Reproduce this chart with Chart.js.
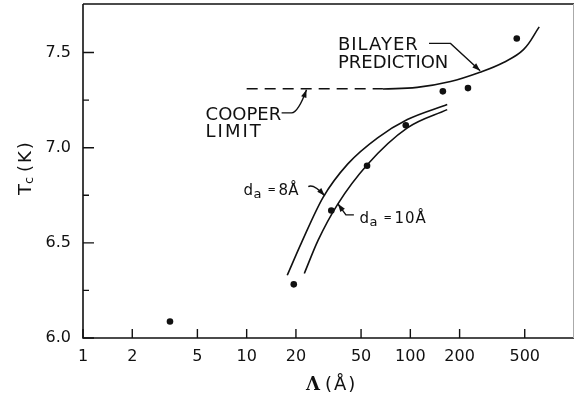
<!DOCTYPE html>
<html>
<head>
<meta charset="utf-8">
<script src="https://cdn.jsdelivr.net/npm/chart.js@4/dist/chart.umd.min.js"></script>
<style>
  html, body { margin: 0; padding: 0; background: #fff; }
  #c { display: block; }
</style>
</head>
<body>
<canvas id="c" width="578" height="398"></canvas>
<script>
// Measured transition temperatures versus bilayer period
const measLambda = [3.4, 19.4, 32.9, 54.4, 93.8, 158, 225, 447];
const measTc     = [6.087, 6.282, 6.67, 6.905, 7.118, 7.296, 7.313, 7.574];

// Cooper limit (dashed)
const cooperLambda = [10, 68];
const cooperTc     = [7.31, 7.31];

// Bilayer prediction
const bilayerLambda = [68, 110, 176, 267, 371, 491, 613];
const bilayerTc     = [7.308, 7.317, 7.348, 7.397, 7.448, 7.515, 7.635];

// Proximity model, d_a = 8 Å
const da8Lambda = [17.7, 21.6, 29.3, 41.5, 63.1, 95.9, 168];
const da8Tc     = [6.33, 6.50, 6.739, 6.915, 7.052, 7.148, 7.227];

// Proximity model, d_a = 10 Å
const da10Lambda = [22.5, 27.3, 36.1, 54.9, 95.9, 168];
const da10Tc     = [6.339, 6.513, 6.705, 6.913, 7.104, 7.200];

// Axis ticks
const xTicks = [1, 2, 5, 10, 20, 50, 100, 200, 500];
const yTicks = [6.0, 6.5, 7.0, 7.5];
const yMinorTicks = [6.25, 6.75, 7.25];

const FONT = '"DejaVu Sans", "Liberation Sans", sans-serif';
const INK = '#111';

const zip = (xs, ys) => xs.map((x, i) => ({ x, y: ys[i] }));

function lineSet(xs, ys, dash, smooth) {
  const ds = {
    data: zip(xs, ys),
    showLine: true,
    borderColor: INK,
    borderWidth: 1.6,
    borderDash: dash || [],
    pointRadius: 0,
    fill: false
  };
  if (smooth === 'spline') ds.tension = 0.4; else ds.cubicInterpolationMode = 'monotone';
  return ds;
}

function arrowHead(ctx, fx, fy, tx, ty) {
  const a = Math.atan2(ty - fy, tx - fx);
  const L = 8, W = 2.8;
  ctx.beginPath();
  ctx.moveTo(tx, ty);
  ctx.lineTo(tx - L * Math.cos(a) + W * Math.sin(a), ty - L * Math.sin(a) - W * Math.cos(a));
  ctx.lineTo(tx - L * Math.cos(a) - W * Math.sin(a), ty - L * Math.sin(a) + W * Math.cos(a));
  ctx.closePath();
  ctx.fill();
}

// keep the plot box fixed: no extra label padding around the axes
function fixBox(size) {
  return s => {
    if (s.isHorizontal()) s.height = size; else s.width = size;
    s.paddingTop = 0; s.paddingBottom = 0; s.paddingLeft = 0; s.paddingRight = 0;
  };
}

// Frame, inward tick marks, axis titles and callouts
const decor = {
  id: 'decor',
  afterDraw(chart) {
    const { ctx, chartArea: a, scales } = chart;
    const X = v => scales.x.getPixelForValue(v);
    const Y = v => scales.y.getPixelForValue(v);
    ctx.save();
    ctx.strokeStyle = INK;
    ctx.fillStyle = INK;
    ctx.lineCap = 'butt';

    // frame
    ctx.lineWidth = 1.6;
    ctx.beginPath();
    ctx.moveTo(a.left, a.top); ctx.lineTo(a.left, a.bottom); ctx.lineTo(a.right, a.bottom);
    ctx.moveTo(a.left, a.top); ctx.lineTo(a.right, a.top);
    ctx.stroke();
    ctx.strokeStyle = '#aaa';
    ctx.lineWidth = 1;
    ctx.beginPath();
    ctx.moveTo(a.right - 0.5, a.top); ctx.lineTo(a.right - 0.5, a.bottom);
    ctx.stroke();
    ctx.strokeStyle = INK;

    // tick marks pointing into the plot
    ctx.lineWidth = 1.4;
    ctx.beginPath();
    xTicks.forEach(v => { const x = X(v); ctx.moveTo(x, a.bottom); ctx.lineTo(x, a.bottom - 9); });
    yTicks.forEach(v => { const y = Y(v); ctx.moveTo(a.left, y); ctx.lineTo(a.left + 11, y); });
    yMinorTicks.forEach(v => { const y = Y(v); ctx.moveTo(a.left, y); ctx.lineTo(a.left + 6, y); });
    ctx.stroke();

    // y title: T_c (K)
    ctx.save();
    ctx.translate(30.5, 195);
    ctx.rotate(-Math.PI / 2);
    ctx.textBaseline = 'alphabetic';
    ctx.textAlign = 'left';
    ctx.font = '18px ' + FONT;
    ctx.fillText('T', 0, 0);
    ctx.font = '13px ' + FONT;
    ctx.fillText('c', 11, 2);
    ctx.font = '18px ' + FONT;
    ctx.letterSpacing = '2px';
    ctx.fillText('(K)', 23, 0);
    ctx.restore();

    // x title: Λ (Å)
    ctx.textBaseline = 'alphabetic';
    ctx.textAlign = 'left';
    ctx.font = 'bold 18px "DejaVu Serif", serif';
    ctx.fillText('Λ', 306, 390);
    ctx.font = '18px ' + FONT;
    ctx.letterSpacing = '2px';
    ctx.fillText('(Å)', 325, 390);
    ctx.letterSpacing = '0px';

    // callout: BILAYER PREDICTION
    ctx.font = '18px ' + FONT;
    ctx.letterSpacing = '1px';
    ctx.fillText('BILAYER', X(36.1), Y(7.514));
    ctx.letterSpacing = '0px';
    ctx.fillText('PREDICTION', X(36.1), Y(7.421));
    ctx.lineWidth = 1.4;
    ctx.beginPath();
    ctx.moveTo(X(130), Y(7.548));
    ctx.lineTo(X(176), Y(7.548));
    ctx.lineTo(X(267), Y(7.404));
    ctx.stroke();
    arrowHead(ctx, X(176), Y(7.548), X(267), Y(7.404));

    // callout: COOPER LIMIT
    ctx.fillText('COOPER', X(5.61), Y(7.148));
    ctx.letterSpacing = '2px';
    ctx.fillText('LIMIT', X(5.61), Y(7.056));
    ctx.letterSpacing = '0px';
    ctx.beginPath();
    ctx.moveTo(X(16.35), Y(7.183));
    ctx.lineTo(X(18.8), Y(7.183));
    ctx.quadraticCurveTo(X(20.7), Y(7.187), X(23.2), Y(7.305));
    ctx.stroke();
    arrowHead(ctx, X(20.7), Y(7.187), X(23.2), Y(7.305));

    // callout labels d_a = ...
    const drawDa = (x0, y0, rest) => {
      ctx.font = '15px ' + FONT;
      ctx.fillText('d', x0, y0);
      ctx.font = '13px ' + FONT;
      ctx.fillText('a', x0 + 10, y0 + 3);
      ctx.font = '10px ' + FONT;
      ctx.fillText('=', x0 + 24, y0 - 2);
      ctx.font = '15px ' + FONT;
      ctx.fillText(rest, x0 + 35, y0);
    };
    drawDa(X(9.58), Y(6.753), '8Å');
    ctx.beginPath();
    ctx.moveTo(X(23.8), Y(6.795));
    ctx.quadraticCurveTo(X(25.5), Y(6.812), X(30.0), Y(6.748));
    ctx.stroke();
    arrowHead(ctx, X(25.5), Y(6.812), X(30.0), Y(6.748));

    ctx.letterSpacing = '1px';
    drawDa(X(48.9), Y(6.602), '10Å');
    ctx.letterSpacing = '0px';
    ctx.beginPath();
    ctx.moveTo(X(45.2), Y(6.647));
    ctx.lineTo(X(40.4), Y(6.647));
    ctx.lineTo(X(36.1), Y(6.705));
    ctx.stroke();
    arrowHead(ctx, X(40.4), Y(6.647), X(36.1), Y(6.705));

    ctx.restore();
  }
};

new Chart(document.getElementById('c'), {
  type: 'scatter',
  data: {
    datasets: [
      lineSet(cooperLambda, cooperTc, [11, 7]),
      lineSet(bilayerLambda, bilayerTc, null, 'spline'),
      lineSet(da8Lambda, da8Tc),
      lineSet(da10Lambda, da10Tc),
      {
        data: zip(measLambda, measTc),
        showLine: false,
        pointRadius: 3.3,
        pointBackgroundColor: INK,
        pointBorderColor: INK,
        pointBorderWidth: 0
      }
    ]
  },
  options: {
    responsive: false,
    animation: false,
    devicePixelRatio: 1,
    layout: { padding: { top: 2, right: 1, left: 0, bottom: 0 } },
    plugins: { legend: { display: false }, tooltip: { enabled: false } },
    scales: {
      x: {
        type: 'logarithmic',
        min: 1,
        max: 1000,
        afterBuildTicks: s => { s.ticks = xTicks.map(v => ({ value: v })); },
        afterFit: fixBox(60),
        grid: { display: false, drawTicks: false },
        border: { display: false },
        ticks: {
          autoSkip: false,
          maxRotation: 0,
          padding: 9,
          color: INK,
          font: { family: FONT, size: 16 },
          callback: v => String(v)
        }
      },
      y: {
        type: 'linear',
        min: 6.0,
        max: 7.755,
        afterBuildTicks: s => { s.ticks = yTicks.map(v => ({ value: v })); },
        afterFit: fixBox(83),
        grid: { display: false, drawTicks: false },
        border: { display: false },
        ticks: {
          padding: 12,
          color: INK,
          font: { family: FONT, size: 16 },
          callback: v => v.toFixed(1)
        }
      }
    }
  },
  plugins: [decor]
});
</script>
</body>
</html>
